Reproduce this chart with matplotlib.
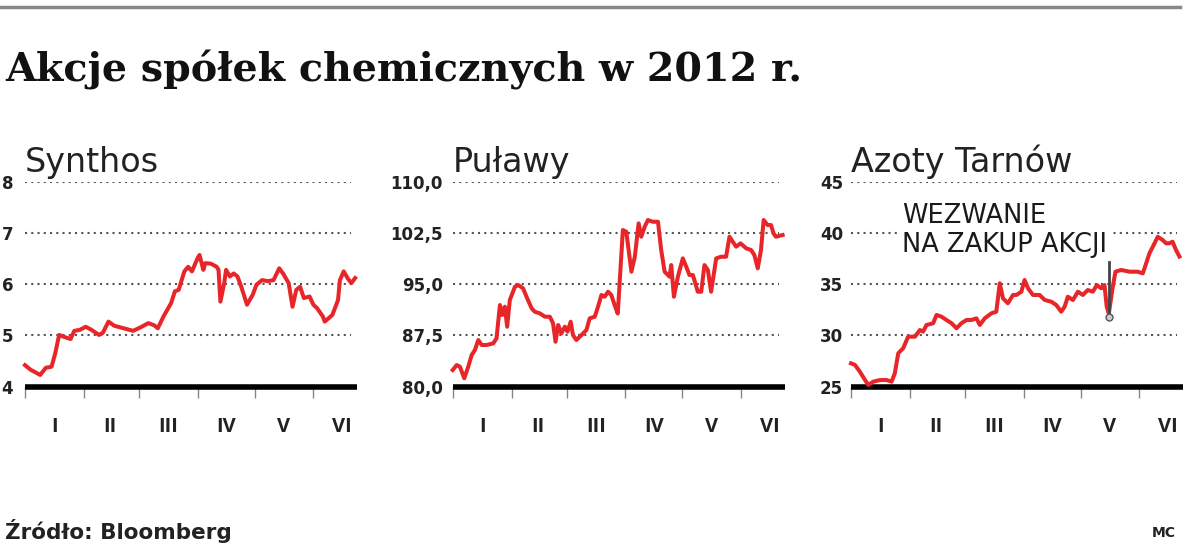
import matplotlib
matplotlib.use('Agg')
import matplotlib.pyplot as plt
from matplotlib.lines import Line2D

# month ticks (day of year 2012)
month_starts = [0, 31, 60, 91, 121, 152]
month_mids = [15.5, 45, 75.5, 106, 136.5, 167]
month_labels = ['I', 'II', 'III', 'IV', 'V', 'VI']

# Synthos
synthos_days = [0, 3, 8, 11, 14, 16, 18, 20, 24, 26, 29, 32, 35, 39, 41, 44, 47, 50, 54, 57,
                61, 65, 68, 70, 73, 77, 79, 81, 84, 86, 88, 91, 92, 94, 95, 98, 101, 102, 103, 105,
                106, 108, 110, 112, 114, 117, 120, 122, 125, 128, 131, 134, 136, 139, 141, 143, 145, 147, 150, 152,
                154, 157, 158, 162, 165, 166, 168, 170, 172, 174]
synthos_vals = [4.42, 4.33, 4.23, 4.37, 4.39, 4.66, 5.01, 4.98, 4.93, 5.09, 5.11, 5.17, 5.11, 5.01, 5.05, 5.27, 5.19, 5.16, 5.12, 5.09,
                5.16, 5.24, 5.20, 5.14, 5.37, 5.63, 5.86, 5.89, 6.25, 6.34, 6.25, 6.51, 6.57, 6.28, 6.41, 6.40, 6.34, 6.28, 5.66, 6.02,
                6.28, 6.15, 6.21, 6.15, 5.95, 5.60, 5.79, 5.99, 6.08, 6.06, 6.08, 6.31, 6.21, 6.02, 5.56, 5.89, 5.95, 5.73, 5.76, 5.60,
                5.53, 5.37, 5.27, 5.40, 5.69, 6.08, 6.25, 6.12, 6.02, 6.12]
synthos_ticks = [4, 5, 6, 7, 8]
synthos_ticklabels = ['4', '5', '6', '7', '8']

# Pulawy
pulawy_days = [0, 2.1, 3.8, 6.1, 8.2, 10, 11.7, 13.5, 15.3, 17.9, 21.4, 23.1, 24.9, 26.1, 27.5, 28.7, 30.1, 32.8, 34.5, 37.1,
               38.9, 41.6, 43.3, 45.9, 48.6, 51.2, 52.9, 54.2, 55.6, 57.3, 59.1, 60.5, 62.2, 63.4, 65.2, 67.9, 70.5, 72.2, 74.9, 76.6,
               78.4, 80.1, 81.9, 83.6, 85.3, 87, 89.7, 91.5, 94.2, 96, 98, 99.4, 101.2, 102.9, 105.5, 108.2, 109.9, 111.7, 114.3, 115.2,
               116.6, 118.7, 121.3, 123.1, 124.8, 126.6, 129.2, 131, 132.7, 134.5, 136.2, 138.9, 141.5, 144.1, 145.9, 147.6, 149.4, 151.7, 154.7, 157.3,
               159, 160.8, 162.5, 163.9, 166, 167.8, 169.1, 170.4, 173.9]
pulawy_vals = [82.44, 83.17, 82.93, 81.23, 82.93, 84.64, 85.37, 86.83, 86.10, 86.10, 86.35, 87.08, 91.95, 90.49, 91.71, 88.78, 92.68, 94.63, 94.88, 94.40,
               93.17, 91.47, 90.97, 90.74, 90.24, 90.24, 89.27, 86.58, 89.03, 87.81, 88.78, 88.05, 89.51, 87.56, 86.83, 87.56, 88.30, 90.0, 90.24, 91.71,
               93.42, 93.17, 93.90, 93.42, 92.0, 90.7, 102.93, 102.68, 96.83, 99.02, 103.9, 101.95, 103.41, 104.39, 104.14, 104.14, 100.0, 96.83, 96.10, 97.80,
               93.17, 96.10, 98.78, 97.56, 96.34, 96.34, 93.90, 93.90, 97.80, 97.07, 93.90, 98.78, 99.02, 99.02, 101.95, 101.22, 100.49, 100.98, 100.25, 100.0,
               99.27, 97.32, 100.0, 104.39, 103.66, 103.66, 102.44, 101.95, 102.2]
pulawy_ticks = [80, 87.5, 95, 102.5, 110]
pulawy_ticklabels = ['80,0', '87,5', '95,0', '102,5', '110,0']

# Azoty Tarnow
azoty_days = [0, 2.1, 4.7, 7.4, 9.1, 11.7, 15.3, 18.8, 21.4, 23.1, 24.9, 27.5, 30.1, 33.7, 36.3, 38, 39.8, 43.3, 45.1, 47.7,
              50.3, 53, 55.6, 58.2, 60.9, 63.5, 66.1, 67.9, 70.5, 74, 76.6, 78.4, 80.1, 82.7, 85.4, 87.2, 89.8, 91.5, 93.3, 95.9,
              99.4, 102.1, 105.6, 108.2, 110.8, 112.6, 114.3, 117, 119.6, 122.2, 124.8, 127.5, 129.6, 131.9, 133.6, 134.8, 135.9, 138, 139.4, 142.4,
              146.8, 151.1, 153.8, 155.6, 157.3, 159.1, 161.7, 164.3, 166.1, 167.8, 169.5, 171.3, 173.1]
azoty_vals = [27.28, 27.12, 26.46, 25.65, 25.17, 25.49, 25.65, 25.65, 25.49, 26.31, 28.26, 28.75, 29.88, 29.88, 30.53, 30.37, 31.02, 31.19, 32.0, 31.83,
              31.51, 31.19, 30.70, 31.19, 31.51, 31.51, 31.67, 31.02, 31.67, 32.16, 32.32, 35.09, 33.62, 33.14, 33.95, 33.95, 34.27, 35.41, 34.6, 33.95,
              33.95, 33.46, 33.29, 32.97, 32.32, 32.80, 33.78, 33.46, 34.27, 33.95, 34.43, 34.27, 34.92, 34.60, 34.92, 32.80, 32.16, 34.76, 36.22, 36.39,
              36.22, 36.22, 36.06, 37.04, 38.01, 38.66, 39.63, 39.31, 38.99, 38.99, 39.15, 38.34, 37.70]
azoty_ticks = [25, 30, 35, 40, 45]
azoty_ticklabels = ['25', '30', '35', '40', '45']

# tender offer marker
wezwanie_day = 136
wezwanie_low = 31.8
wezwanie_high = 37.2

RED = '#e8262a'
W, H = 1200, 544

fig = plt.figure(figsize=(12, 5.44), dpi=100)


def draw_panel(left_px, name, days, vals, ticks, ticklabels, pad):
    ax = fig.add_axes([left_px / W, 1 - 386.7 / H, 332 / W, 205 / H])
    ax.set_xlim(0, 175)
    ax.set_ylim(ticks[0], ticks[-1])
    for s in ['top', 'right', 'left']:
        ax.spines[s].set_visible(False)
    ax.spines['bottom'].set_linewidth(4)
    ax.spines['bottom'].set_color('black')
    ax.spines['bottom'].set_capstyle('butt')
    ax.hlines(ticks[1:], 0, 172, colors='#555555', linestyles=(0, (1, 2)), linewidth=1.5, zorder=1)
    ax.plot(days, vals, color=RED, lw=2.9, solid_joinstyle='round', zorder=3, clip_on=False)
    ax.set_xticks(month_starts)
    ax.set_xticklabels([])
    ax.tick_params(axis='x', which='major', length=8, width=1, color='#888888', direction='out')
    ax.set_xticks(month_mids, minor=True)
    ax.set_xticklabels(month_labels, minor=True, fontsize=14.5, fontweight='bold',
                       family='Open Sans', color='#222222')
    ax.tick_params(axis='x', which='minor', length=0, pad=22)
    ax.set_yticks(ticks)
    ax.set_yticklabels(ticklabels, fontsize=12, fontweight='bold', family='DejaVu Sans', color='#222222')
    ax.tick_params(axis='y', length=0, pad=pad)
    ax.text(0.0, 1.047, name, transform=ax.transAxes, fontsize=24, family='DejaVu Sans',
            color='#222222', va='baseline', ha='left')
    return ax


draw_panel(25, 'Synthos', synthos_days, synthos_vals, synthos_ticks, synthos_ticklabels, 8.6)
draw_panel(452.7, 'Puławy', pulawy_days, pulawy_vals, pulawy_ticks, pulawy_ticklabels, 7)
ax3 = draw_panel(851, 'Azoty Tarnów', azoty_days, azoty_vals, azoty_ticks, azoty_ticklabels, 5.8)

ax3.text(27, 42.9, 'WEZWANIE\nNA ZAKUP AKCJI', fontsize=18.5, family='DejaVu Sans', color='#1a1a1a',
         va='top', ha='left', linespacing=1.15, zorder=2,
         bbox=dict(facecolor='white', edgecolor='none', pad=2))
ax3.plot([wezwanie_day, wezwanie_day], [wezwanie_low, wezwanie_high], color='#444444', lw=2, zorder=4)
ax3.plot([wezwanie_day], [wezwanie_low], 'o', ms=5, mfc='#cccccc', mec='#555555', mew=1, zorder=5)

# top rule
fig.add_artist(Line2D([0, 1180 / W], [1 - 7 / H, 1 - 7 / H], transform=fig.transFigure,
                      color='#888888', lw=2.5))

fig.text(5 / W, 1 - 82 / H, 'Akcje spółek chemicznych w 2012 r.', fontsize=28.5, fontweight='bold',
         family='DejaVu Serif', color='#111111', va='baseline', ha='left')
fig.text(5 / W, 1 - 539 / H, 'Źródło: Bloomberg', fontsize=15.5, fontweight='bold',
         family='DejaVu Sans', color='#222222', va='baseline', ha='left')
fig.text(1176 / W, 1 - 537 / H, 'MC', fontsize=10, fontweight='bold',
         family='DejaVu Sans', color='#222222', va='baseline', ha='right')

fig.savefig('out.png', dpi=100)
